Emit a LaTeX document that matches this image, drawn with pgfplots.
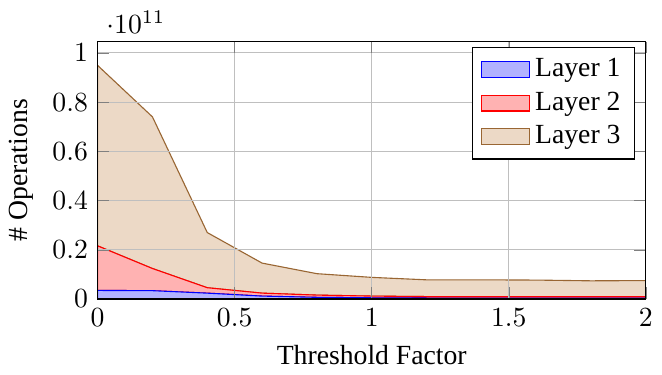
\documentclass[border=0pt]{standalone}
\usepackage{pgfplots}
\pgfplotsset{compat=1.18}
\usepackage{fontspec}
\setmainfont{Liberation Serif}
\begin{document}
\begin{tikzpicture}
\begin{axis}[
  scale only axis,
  width=198pt, height=93pt,
  xmin=0, xmax=2, ymin=0, ymax=1.046e11,
  stack plots=y,
  area style,
  grid=major,
  xtick={0,0.5,1,1.5,2},
  ytick={0,0.2e11,0.4e11,0.6e11,0.8e11,1e11},
  xlabel={Threshold Factor},
  ylabel={\# Operations},
  legend style={at={(0.98,0.98)}, anchor=north east},
  legend cell align=left,
  legend image code/.code={\draw[#1] (0cm,-0.1cm) rectangle (0.6cm,0.1cm);},
]
\addplot[fill=blue!30, draw=blue] coordinates {
 (0,0.035e11) (0.2,0.034e11) (0.4,0.024e11) (0.6,0.012e11) (0.8,0.007e11) (1.0,0.005e11)
 (1.2,0.004e11) (1.4,0.004e11) (1.6,0.004e11) (1.8,0.004e11) (2.0,0.004e11)} \closedcycle;
\addlegendentry{Layer 1}
\addplot[fill=red!30, draw=red] coordinates {
 (0,0.181e11) (0.2,0.090e11) (0.4,0.022e11) (0.6,0.012e11) (0.8,0.009e11) (1.0,0.007e11)
 (1.2,0.006e11) (1.4,0.006e11) (1.6,0.006e11) (1.8,0.006e11) (2.0,0.006e11)} \closedcycle;
\addlegendentry{Layer 2}
\addplot[fill=brown!30, draw=brown!80!black] coordinates {
 (0,0.733e11) (0.2,0.616e11) (0.4,0.224e11) (0.6,0.122e11) (0.8,0.087e11) (1.0,0.076e11)
 (1.2,0.068e11) (1.4,0.068e11) (1.6,0.067e11) (1.8,0.064e11) (2.0,0.065e11)} \closedcycle;
\addlegendentry{Layer 3}
\end{axis}
\path (current axis.north west) ++(0,15pt);
\end{tikzpicture}
\end{document}
